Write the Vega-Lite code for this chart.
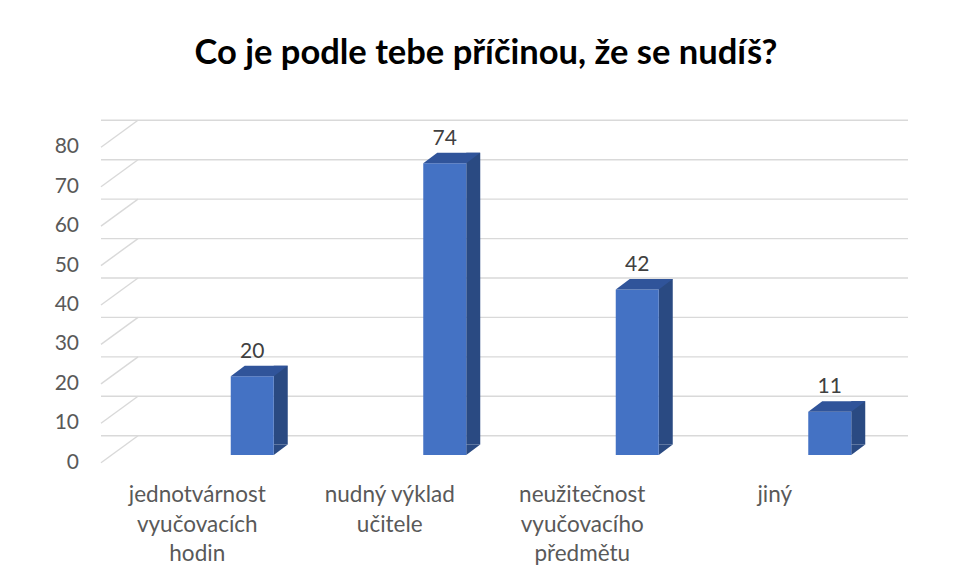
{
  "$schema": "https://vega.github.io/schema/vega-lite/v6.json",
  "width": 770,
  "height": 315.4,
  "autosize": {"type": "none"},
  "padding": {"left": 101, "top": 147.3, "right": 86, "bottom": 118.3},
  "background": "white",
  "config": {
    "view": {"stroke": null},
    "font": "Lato",
    "axisX": {"grid": false, "domain": false, "ticks": false, "labelPadding": 21, "labelFont": "Lato", "labelFontSize": 22.5, "labelColor": "#595959", "labelLineHeight": 29.5, "labelAngle": 0, "labelLimit": 400, "labelOverlap": false}
  },
  "title": {
    "text": "Co je podle tebe příčinou, že se nudíš?",
    "font": "Lato",
    "fontSize": 34.5,
    "fontWeight": "bold",
    "color": "#000000",
    "anchor": "middle",
    "baseline": "alphabetic",
    "offset": 21
  },
  "datasets": {
    "bars": [
      {"duvod": "jednotvárnost vyučovacích hodin", "pocet": 20},
      {"duvod": "nudný výklad učitele", "pocet": 74},
      {"duvod": "neužitečnost vyučovacího předmětu", "pocet": 42},
      {"duvod": "jiný", "pocet": 11}
    ],
    "grid": [
      {"v": 0}, {"v": 10}, {"v": 20}, {"v": 30}, {"v": 40},
      {"v": 50}, {"v": 60}, {"v": 70}, {"v": 80}
    ]
  },
  "layer": [
    {
      "data": {"name": "grid"},
      "mark": {"type": "rule", "color": "#D9D9D9", "strokeWidth": 1.4, "xOffset": 37, "x2Offset": 37, "yOffset": -27},
      "encoding": {
        "y": {"field": "v", "type": "quantitative", "title": null, "scale": {"domain": [0, 80], "nice": false}, "axis": null}
      }
    },
    {
      "data": {"name": "grid"},
      "mark": {"type": "rule", "color": "#D9D9D9", "strokeWidth": 1.4, "y2Offset": -27},
      "encoding": {
        "x": {"value": 0},
        "x2": {"value": 37},
        "y": {"field": "v", "type": "quantitative", "title": null, "axis": null},
        "y2": {"field": "v"}
      }
    },
    {
      "data": {"name": "grid"},
      "mark": {"type": "text", "align": "right", "baseline": "middle", "font": "Lato", "fontSize": 21, "color": "#595959"},
      "encoding": {
        "x": {"value": -22},
        "y": {"field": "v", "type": "quantitative", "title": null, "axis": null},
        "text": {"field": "v", "type": "quantitative"}
      }
    },
    {
      "data": {"name": "bars"},
      "encoding": {
        "x": {
          "field": "duvod",
          "type": "nominal",
          "sort": null,
          "title": null,
          "scale": {"paddingInner": 0, "paddingOuter": 0},
          "axis": {"labelExpr": "datum.label == 'nudný výklad učitele' ? ['nudný výklad', 'učitele'] : split(datum.label, ' ')"}
        },
        "y": {"field": "pocet", "type": "quantitative", "title": null, "axis": null}
      },
      "layer": [
        {
          "mark": {"type": "bar", "width": 14, "xOffset": 83.5, "yOffset": -18.2, "y2Offset": -18.2, "color": "#2A4A82"}
        },
        {
          "mark": {"type": "point", "shape": "M76.5,-18.2L76.5,-7.7L90.5,-18.2Z", "size": 4, "filled": true, "color": "#2A4A82", "opacity": 1, "strokeWidth": 0},
          "encoding": {"y": {"datum": 0, "type": "quantitative"}}
        },
        {
          "mark": {"type": "bar", "width": 43, "xOffset": 55, "yOffset": -7.7, "y2Offset": -7.7, "color": "#4472C4"}
        },
        {
          "mark": {"type": "point", "shape": "M33.5,-7.7L76.5,-7.7L90.5,-18.2L47.5,-18.2Z", "size": 4, "filled": true, "color": "#30549A", "opacity": 1, "strokeWidth": 0}
        },
        {
          "mark": {"type": "text", "xOffset": 55, "yOffset": -26, "baseline": "alphabetic", "fontSize": 21, "color": "#404040", "font": "Lato"},
          "encoding": {
            "text": {"field": "pocet", "type": "quantitative"}
          }
        }
      ]
    }
  ]
}
